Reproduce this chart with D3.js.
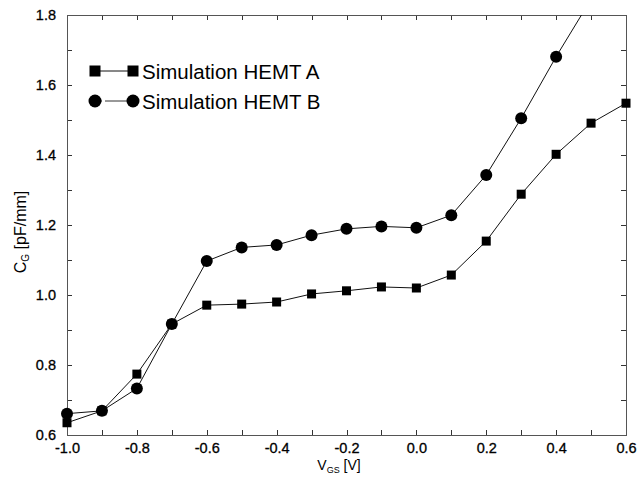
<!DOCTYPE html>
<html>
<head>
<meta charset="utf-8">
<script src="https://cdn.jsdelivr.net/npm/d3@7"></script>
<style>
  html, body { margin: 0; padding: 0; background: #fff; }
  svg { display: block; font-family: "Liberation Sans", Arial, Helvetica, sans-serif; }
</style>
</head>
<body>
<svg id="chart" width="639" height="481"></svg>
<script>
// Gate voltage sweep (V)
const vgsA = [-1.0, -0.9, -0.8, -0.7, -0.6, -0.5, -0.4, -0.3, -0.2, -0.1, 0.0, 0.1, 0.2, 0.3, 0.4, 0.5, 0.6];
const vgsB = [-1.0, -0.9, -0.8, -0.7, -0.6, -0.5, -0.4, -0.3, -0.2, -0.1, 0.0, 0.1, 0.2, 0.3, 0.4, 0.5];
// Gate capacitance (pF/mm)
const cgA = [0.635, 0.669, 0.774, 0.917, 0.971, 0.974, 0.980, 1.003, 1.012, 1.023, 1.020, 1.057, 1.154, 1.288, 1.402, 1.491, 1.548];
const cgB = [0.661, 0.669, 0.733, 0.917, 1.097, 1.136, 1.143, 1.171, 1.189, 1.196, 1.192, 1.228, 1.343, 1.505, 1.681, 1.845];
const seriesNames = ["Simulation HEMT A", "Simulation HEMT B"];
const xTickValues = [-1.0, -0.8, -0.6, -0.4, -0.2, 0.0, 0.2, 0.4, 0.6];
const yTickValues = [0.6, 0.8, 1.0, 1.2, 1.4, 1.6, 1.8];

const svg = d3.select("#chart");
const m = { left: 67, top: 15, right: 626, bottom: 435 };

const x = d3.scaleLinear().domain([-1.0, 0.6]).range([m.left, m.right]);
const y = d3.scaleLinear().domain([0.6, 1.8]).range([m.bottom, m.top]);

const minorX = d3.range(-1.0, 0.6001, 0.1).map(v => +v.toFixed(1));
const minorY = d3.range(0.6, 1.8001, 0.1).map(v => +v.toFixed(1));

const tickColor = "#333";
const fmt = d => d3.format(".1f")(d).replace("\u2212", "-");

// Lines are clipped to the plot box; markers only above the top edge
const defs = svg.append("defs");
defs.append("clipPath").attr("id", "plotClip")
  .append("rect").attr("x", m.left).attr("y", m.top)
  .attr("width", m.right - m.left).attr("height", m.bottom - m.top);
defs.append("clipPath").attr("id", "markClip")
  .append("rect").attr("x", 0).attr("y", m.top)
  .attr("width", 639).attr("height", 481 - m.top);

// Tick labels
const xAxis = svg.append("g").attr("transform", `translate(0,${m.bottom})`)
  .call(d3.axisBottom(x).tickValues(xTickValues).tickSize(0).tickPadding(8).tickFormat(fmt));
xAxis.select(".domain").remove();
xAxis.selectAll("text").attr("font-size", 14.5).attr("fill", "#000")
  .attr("stroke", "#000").attr("stroke-width", 0.3);

const yAxis = svg.append("g").attr("transform", `translate(${m.left},0)`)
  .call(d3.axisLeft(y).tickValues(yTickValues).tickSize(0).tickPadding(11).tickFormat(fmt));
yAxis.select(".domain").remove();
yAxis.selectAll("text").attr("font-size", 14.5).attr("fill", "#000")
  .attr("stroke", "#000").attr("stroke-width", 0.3);

// Inward tick marks on all four sides
const ticks = svg.append("g").attr("stroke", tickColor).attr("stroke-width", 1);
minorX.forEach(v => {
  const len = 5;
  const px = Math.round(x(v)) + 0.5;
  ticks.append("line").attr("x1", px).attr("x2", px).attr("y1", m.bottom).attr("y2", m.bottom - len);
  ticks.append("line").attr("x1", px).attr("x2", px).attr("y1", m.top).attr("y2", m.top + len);
});
minorY.forEach(v => {
  const len = 5;
  const py = Math.round(y(v)) + 0.5;
  ticks.append("line").attr("x1", m.left).attr("x2", m.left + len).attr("y1", py).attr("y2", py);
  ticks.append("line").attr("x1", m.right).attr("x2", m.right - len).attr("y1", py).attr("y2", py);
});

// Plot frame
svg.append("rect")
  .attr("x", m.left + 0.5).attr("y", m.top + 0.5)
  .attr("width", m.right - m.left).attr("height", m.bottom - m.top)
  .attr("fill", "none").attr("stroke", "#555").attr("stroke-width", 1);

const line = d3.line().x(d => x(d[0])).y(d => y(d[1]));
const dataA = vgsA.map((v, i) => [v, cgA[i]]);
const dataB = vgsB.map((v, i) => [v, cgB[i]]);

const plot = svg.append("g").attr("clip-path", "url(#plotClip)");
plot.append("path").datum(dataA).attr("d", line)
  .attr("fill", "none").attr("stroke", "#111").attr("stroke-width", 1);
plot.append("path").datum(dataB).attr("d", line)
  .attr("fill", "none").attr("stroke", "#111").attr("stroke-width", 1);

const sq = 9, r = 6;
const markers = svg.append("g").attr("clip-path", "url(#markClip)");
markers.selectAll("rect.a").data(dataA).join("rect").attr("class", "a")
  .attr("x", d => x(d[0]) - sq / 2).attr("y", d => y(d[1]) - sq / 2)
  .attr("width", sq).attr("height", sq).attr("fill", "#000");
markers.selectAll("circle.b").data(dataB).join("circle").attr("class", "b")
  .attr("cx", d => x(d[0])).attr("cy", d => y(d[1])).attr("r", r).attr("fill", "#000");

// Legend
const legend = svg.append("g");
const lgA = 71, lgB = 101, lx0 = 95, lx1 = 133;
legend.append("line").attr("x1", lx0).attr("x2", lx1).attr("y1", lgA).attr("y2", lgA)
  .attr("stroke", "#111").attr("stroke-width", 1);
legend.append("rect").attr("x", lx0 - 5.5).attr("y", lgA - 5.5).attr("width", 11).attr("height", 11).attr("fill", "#000");
legend.append("rect").attr("x", lx1 - 5.5).attr("y", lgA - 5.5).attr("width", 11).attr("height", 11).attr("fill", "#000");
legend.append("line").attr("x1", lx0).attr("x2", lx1).attr("y1", lgB).attr("y2", lgB)
  .attr("stroke", "#333").attr("stroke-width", 1).attr("stroke-dasharray", "1,2,1,2,1,3,30");
legend.append("circle").attr("cx", lx0).attr("cy", lgB).attr("r", 6.5).attr("fill", "#000");
legend.append("circle").attr("cx", lx1).attr("cy", lgB).attr("r", 6.5).attr("fill", "#000");
legend.append("text").attr("x", 142).attr("y", lgA + 7.5).attr("font-size", 20.5).attr("fill", "#000").text(seriesNames[0]);
legend.append("text").attr("x", 142).attr("y", lgB + 7.5).attr("font-size", 20.5).attr("fill", "#000").text(seriesNames[1]);

// Axis titles
const xt = svg.append("text").attr("x", 339).attr("y", 470).attr("text-anchor", "middle")
  .attr("font-size", 14).attr("fill", "#000");
xt.append("tspan").text("V");
xt.append("tspan").attr("font-size", 9).attr("dy", 3).text("GS");
xt.append("tspan").attr("dy", -3).text(" [V]");

const yt = svg.append("text").attr("transform", "translate(26,232) rotate(-90)")
  .attr("text-anchor", "middle").attr("font-size", 16).attr("fill", "#000");
yt.append("tspan").text("C");
yt.append("tspan").attr("font-size", 10).attr("dy", 3).text("G");
yt.append("tspan").attr("dy", -3).text(" [pF/mm]");
</script>
</body>
</html>
